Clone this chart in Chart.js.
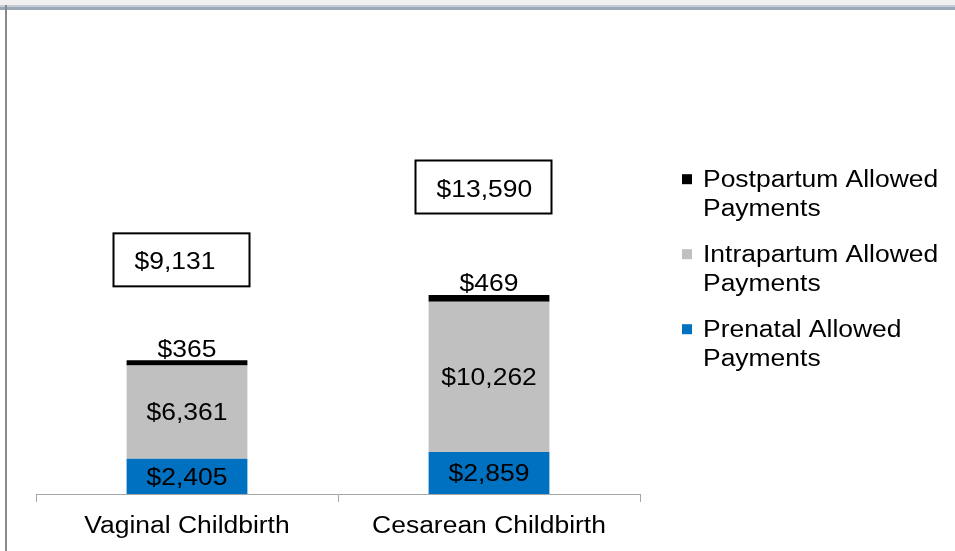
<!DOCTYPE html>
<html><head><meta charset="utf-8">
<script src="https://cdn.jsdelivr.net/npm/chart.js@4/dist/chart.umd.min.js"></script>
<style>html,body{margin:0;padding:0;background:#fff;} canvas{display:block;}</style>
</head><body>
<canvas id="c" width="955" height="551"></canvas>
<script>
const categories = ['Vaginal Childbirth', 'Cesarean Childbirth'];
const seriesNames = ['Prenatal Allowed Payments', 'Intrapartum Allowed Payments', 'Postpartum Allowed Payments'];
const prenatal = [2405, 2859];
const intrapartum = [6361, 10262];
const postpartum = [365, 469];
const seriesColors = ['#0070C0', '#C0C0C0', '#000000'];

const FONT = '"Liberation Sans", Arial, sans-serif';
const SX = 1.15;
const FS = 23;

function fmt(v){ return '$' + v.toLocaleString('en-US'); }
function txt(ctx, s, x, y, align) {
  ctx.save();
  ctx.translate(x, y);
  ctx.scale(SX, 1);
  ctx.textAlign = align || 'center';
  ctx.textBaseline = 'alphabetic';
  ctx.fillText(s, 0, 0);
  ctx.restore();
}

const framePlugin = {
  id: 'frame',
  beforeDraw(chart) {
    const ctx = chart.ctx;
    ctx.save();
    ctx.fillStyle = '#ffffff'; ctx.fillRect(0, 0, 955, 551);
    ctx.fillStyle = '#f0f0f0'; ctx.fillRect(0, 0, 955, 5);
    ctx.fillStyle = '#c6cdd8'; ctx.fillRect(0, 5, 955, 2);
    ctx.fillStyle = '#9ca8b8'; ctx.fillRect(0, 7, 955, 3);
    ctx.fillStyle = '#8a8a8a'; ctx.fillRect(5, 5, 2, 546);
    ctx.restore();
  }
};

const labelPlugin = {
  id: 'labels',
  afterDatasetsDraw(chart) {
    const ctx = chart.ctx;
    const dataArrs = [prenatal, intrapartum, postpartum];
    const metas = dataArrs.map((_, i) => chart.getDatasetMeta(i));
    ctx.save();
    ctx.font = FS + 'px ' + FONT;
    ctx.fillStyle = '#000';
    categories.forEach((cat, j) => {
      for (let i = 0; i < 2; i++) {
        const el = metas[i].data[j];
        const cy = (el.y + el.base) / 2;
        txt(ctx, fmt(dataArrs[i][j]), el.x, cy + 8.3);
      }
      const top = metas[2].data[j];
      txt(ctx, fmt(postpartum[j]), top.x, top.y - 3.5);
      const total = dataArrs.reduce((s, a) => s + a[j], 0);
      const bw = 136, bh = 53;
      const barH = metas[0].data[j].base - top.y;
      const bx = top.x - 73.5, bcy = top.y - (85 + 0.115 * barH);
      ctx.lineWidth = 2; ctx.strokeStyle = '#000';
      ctx.strokeRect(bx, bcy - bh / 2, bw, bh);
      txt(ctx, fmt(total), bx + 21, bcy + 9.5, 'left');
      const xp = chart.scales.x.getPixelForValue(j);
      txt(ctx, cat, xp, 533);
    });
    const order = [2, 1, 0];
    order.forEach((i, k) => {
      const base = 186.7 + k * 75;
      ctx.fillStyle = seriesColors[i];
      ctx.fillRect(682, base - 12.5, 10, 10);
      ctx.fillStyle = '#000';
      const words = seriesNames[i].split(' ');
      txt(ctx, words.slice(0, -1).join(' '), 703, base, 'left');
      txt(ctx, words[words.length - 1], 703, base + 29, 'left');
    });
    ctx.restore();
  }
};

new Chart(document.getElementById('c'), {
  type: 'bar',
  data: {
    labels: categories,
    datasets: [
      { label: seriesNames[0], data: prenatal, backgroundColor: seriesColors[0] },
      { label: seriesNames[1], data: intrapartum, backgroundColor: seriesColors[1] },
      { label: seriesNames[2], data: postpartum, backgroundColor: seriesColors[2] }
    ].map(d => Object.assign(d, { borderWidth: 0, barPercentage: 0.4, categoryPercentage: 1.0 }))
  },
  options: {
    responsive: false,
    animation: false,
    layout: { padding: { left: 36, right: 315, top: 201, bottom: 0 } },
    plugins: { legend: { display: false }, tooltip: { enabled: false } },
    scales: {
      x: {
        stacked: true,
        offset: true,
        grid: { display: true, drawOnChartArea: false, drawTicks: true, tickLength: 8, color: '#a6a6a6', offset: true },
        border: { display: true, color: '#a6a6a6', width: 1 },
        ticks: { display: false },
        afterFit(s) { s.height = 57; }
      },
      y: { stacked: true, display: false, min: 0, max: 20000 }
    }
  },
  plugins: [framePlugin, labelPlugin]
});
</script>
</body></html>
